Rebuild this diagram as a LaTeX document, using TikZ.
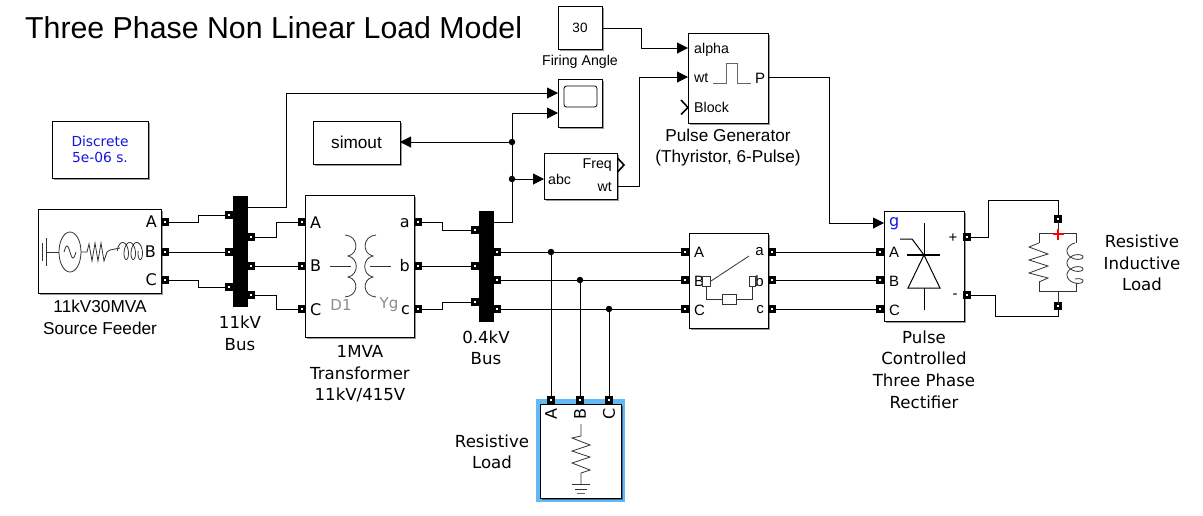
\documentclass[tikz,border=0pt]{standalone}
\usepackage{fontspec}
\setmainfont{Liberation Sans}
\newfontfamily\vfont{DejaVu Sans}
\usetikzlibrary{arrows.meta,shadows}
\definecolor{hilite}{RGB}{100,185,245}
\definecolor{simblue}{RGB}{20,20,225}
\tikzset{
  blk/.style={draw=black,line width=0.9pt,fill=white,inner sep=0pt,outer sep=0pt,
    drop shadow={shadow xshift=1.5pt,shadow yshift=-2pt,opacity=.4,fill=black}},
  bar/.style={fill=black,inner sep=0pt,outer sep=0pt},
  port/.style={draw=black,fill=white,line width=2.3pt,minimum size=5pt,inner sep=0pt,outer sep=0pt},
  dot/.style={circle,fill=black,minimum size=6.5pt,inner sep=0pt},
  wire/.style={draw=black,line width=1pt},
  arr/.style={wire,-{Triangle[length=11pt,width=11pt]}},
  icon/.style={draw=black!80,line width=0.8pt},
  gicon/.style={draw=black!60,line width=0.8pt},
  lbl/.style={inner sep=0pt,align=center,font=\fontsize{17.2}{21.6}\selectfont},
  vlbl/.style={inner sep=0pt,align=center,font=\vfont\fontsize{16.6}{21.6}\selectfont},
  plbl/.style={inner sep=0pt,font=\vfont\fontsize{16}{16}\selectfont},
  slbl/.style={inner sep=0pt,font=\fontsize{14.2}{14}\selectfont},
  mlbl/.style={inner sep=0pt,font=\fontsize{15}{15}\selectfont}
}
\begin{document}
\begin{tikzpicture}[x=1pt,y=-1pt]
\useasboundingbox (0,0) rectangle (1203,515);
\fill[white] (0,0) rectangle (1203,515);
% title
\node[anchor=west,inner sep=0pt,font=\fontsize{30.3}{32}\selectfont] (title) at (25,28) {Three Phase Non Linear Load Model};
% discrete
\node[blk,minimum width=96pt,minimum height=57pt,align=center,text=simblue,font=\vfont\fontsize{13.8}{15.5}\selectfont] (disc) at (100,149.5) {Discrete\\5e-06 s.};
% source
\node[blk,minimum width=123pt,minimum height=84pt] (src) at (99.5,251) {};
\node[plbl,anchor=east] (srcA) at (157,222) {A};
\node[plbl,anchor=east] (srcB) at (156,252) {B};
\node[plbl,anchor=east] (srcC) at (157,280) {C};
\draw[icon] (42,243) -- (42,261) (46,238) -- (46,266) (46,252) -- (59,252);
\draw[icon] (70,252) ellipse [x radius=11,y radius=20];
\draw[icon] plot[domain=64:76,samples=30,smooth] (\x,{252-6*sin(30*(\x-64))});
\draw[icon] (81,252) -- (87,252) -- (89,244) -- (92,261) -- (95,243) -- (98,261) -- (101,243) -- (104,261) -- (107,252) -- (110,250) -- (120,248);
\draw[icon] plot[domain=90:1170,samples=140,smooth] ({121+(\x-90)/1080*21-3.8*sin(\x)},{251+8.5*cos(\x)});
\node[lbl] (srcL) at (100,317.5) {11kV30MVA\\Source Feeder};
% bus 1
\node[bar,minimum width=15pt,minimum height=111pt] (bus1) at (240.5,251.5) {};
\node[vlbl] (bus1L) at (240,333.5) {11kV\\Bus};
% transformer
\node[blk,minimum width=109pt,minimum height=142pt] (tr) at (359.5,266) {};
\node[plbl,anchor=west] (trA) at (310,223) {A};
\node[plbl,anchor=west] (trB) at (310,266) {B};
\node[plbl,anchor=west] (trC) at (310,310) {C};
\node[plbl,anchor=east] (tra) at (410,223) {a};
\node[plbl,anchor=east] (trb) at (410,266) {b};
\node[plbl,anchor=east] (trc) at (410,310) {c};
\draw[icon] (345,235) .. controls (359,236) and (359,254) .. (348,256) .. controls (359,258) and (359,275) .. (348,277) .. controls (359,279) and (359,296) .. (345,297);
\draw[icon] (376,235) .. controls (362,236) and (362,254) .. (373,256) .. controls (362,258) and (362,275) .. (373,277) .. controls (362,279) and (362,296) .. (376,297);
\draw[icon] (330,266) -- (351,266) (370,266) -- (391,266);
\node[plbl,text=black!45,font=\vfont\fontsize{15}{15}\selectfont] (d1) at (341,305) {D1};
\node[plbl,text=black!45,font=\vfont\fontsize{15}{15}\selectfont] (yg) at (389,305) {Yg};
\node[vlbl] (trL) at (360,374) {1MVA\\Transformer\\11kV/415V};
% bus 2
\node[bar,minimum width=15pt,minimum height=111pt] (bus2) at (486.5,266.5) {};
\node[vlbl] (bus2L) at (486,348) {0.4kV\\Bus};
% simout
\node[blk,minimum width=87pt,minimum height=43pt,font=\fontsize{17.2}{18}\selectfont] (sim) at (356.5,142.5) {simout};
% constant
\node[blk,minimum width=44pt,minimum height=43pt,font=\fontsize{13.5}{15}\selectfont] (cst) at (580,27.5) {30};
\node[slbl] (cstL) at (580,62) {Firing Angle};
% scope
\node[blk,minimum width=44pt,minimum height=48pt] (scp) at (580,103) {};
\draw[icon,draw=black,rounded corners=2.5pt] (564,86) rectangle (597,107);
% pll
\node[blk,minimum width=73pt,minimum height=46pt] (pll) at (580.5,176) {};
\node[slbl,anchor=west] (abcT) at (548,179) {abc};
\node[slbl,anchor=east] (freqT) at (612,165) {Freq};
\node[slbl,anchor=east] (wtT) at (612,187) {wt};
\draw[draw=black,line width=1.6pt,line join=miter] (617.5,158) -- (624,165) -- (617.5,172);
% pulse generator
\node[blk,minimum width=80pt,minimum height=90pt] (pg) at (728,78) {};
\node[slbl,anchor=west] (alphaT) at (694,50) {alpha};
\node[slbl,anchor=west] (wt2T) at (694,78) {wt};
\node[slbl,anchor=west] (blockT) at (694,107) {Block};
\node[mlbl,anchor=west] (pT) at (755,78) {P};
\draw[gicon] (713,83) -- (726,83) -- (726,63.5) -- (737,63.5) -- (737,83) -- (751,83);
\draw[draw=black,line width=1.6pt] (681,100) -- (688,107.5) -- (681,114.5);
\node[lbl] (pgL) at (728,147.5) {Pulse Generator\\(Thyristor, 6-Pulse)};
% breaker
\node[blk,minimum width=79pt,minimum height=95pt] (brk) at (728.5,280.5) {};
\node[mlbl,anchor=west] (brA) at (694,252) {A};
\node[mlbl,anchor=west] (brB) at (694,281) {B};
\node[mlbl,anchor=west] (brC) at (694,310) {C};
\node[mlbl,anchor=east] (bra) at (764,252) {a};
\node[mlbl,anchor=east] (brb) at (764,281) {b};
\node[mlbl,anchor=east] (brc) at (764,310) {c};
\draw[icon,fill=white] (702,276) rectangle (710,286);
\draw[icon,fill=white] (749,276) rectangle (755,286);
\draw[icon,fill=white] (722,294) rectangle (736,304);
\draw[icon] (711,281) -- (749,256);
\draw[icon] (706,286) |- (722,299) (736,299) -| (752,286);
% rectifier
\node[blk,minimum width=80pt,minimum height=110pt] (rec) at (924,266) {};
\node[plbl,anchor=west,text=simblue] (recg) at (889,224) {g};
\node[mlbl,anchor=west] (recA) at (889,252) {A};
\node[mlbl,anchor=west] (recB) at (889,281) {B};
\node[mlbl,anchor=west] (recC) at (889,310) {C};
\node[mlbl] (recP) at (953,238) {+};
\node[mlbl] (recM) at (955,296) {-};
\draw[icon,draw=black,line width=1pt] (924,223) -- (924,255) (924,288) -- (924,310);
\draw[icon,draw=black,line width=1.1pt] (907,255) -- (940,255);
\draw[icon,draw=black,line width=1pt] (924,255) -- (908,288) -- (940,288) -- cycle;
\draw[icon,draw=black,line width=1pt] (900,239) -- (912,239) -- (924,255);
\node[vlbl] (recL) at (924,369.5) {Pulse\\Controlled\\Three Phase\\Rectifier};
% RL load
\coordinate (rlT) at (1058,233);
\coordinate (rlB) at (1058,291);
\draw[icon] (1039,243) |- (1076,233) -- (1076,243);
\draw[icon] (1039,282) |- (1076,291) -- (1076,283);
\draw[icon] (1039,243) -- (1029,247) -- (1048,254) -- (1029,260) -- (1048,266) -- (1029,273) -- (1048,278) -- (1039,282);
\draw[icon] plot[domain=90:1170,samples=140,smooth] ({1075+8*cos(\x)},{243+(\x-90)/1080*36+5-5*sin(\x)});
\node[vlbl] (rlL) at (1142,263) {Resistive\\Inductive\\Load};
% resistive load
\fill[hilite] (536,399) rectangle (625,502);
\node[blk,minimum width=81pt,minimum height=94pt] (rl) at (580.5,451) {};
\node[plbl,rotate=90] (rlA) at (551,414) {A};
\node[plbl,rotate=90] (rlB2) at (580,414) {B};
\node[plbl,rotate=90] (rlC) at (609,414) {C};
\draw[icon] (581,424) -- (581,436) -- (572,438) -- (590,445) -- (572,451) -- (590,457) -- (572,463) -- (590,470) -- (581,473) -- (581,484);
\draw[icon] (572,484) -- (590,484) (575,489) -- (587,489);
\draw[gicon] (577,493) -- (585,493);
\node[vlbl] (rlL2) at (492,452) {Resistive\\Load};
% ports
\foreach \n/\px/\py in {s1/165/222,s2/165/252,s3/165/280,
  bi1/229/215,bi2/229/252,bi3/229/287,bo1/251/237,bo2/251/266,bo3/251/295,
  ti1/302/222,ti2/302/266,ti3/302/309,to1/418/222,to2/418/266,to3/418/309,
  ci1/475/230,ci2/475/266,ci3/475/302,co1/497/252,co2/497/280,co3/497/309,
  bk1/685/252,bk2/685/280,bk3/685/309,bko1/772/252,bko2/772/280,bko3/772/309,
  ri1/880/252,ri2/880/280,ri3/880/309,ro1/967/237,ro2/967/295,
  lt/1058/219,lb/1058/306,
  la/551/400,lb2/580/400,lc/609/400}
  {\node[port] (\n) at (\px,\py) {};}
% junctions
\node[dot] (j1) at (512,142) {};
\node[dot] (j2) at (512,179) {};
\node[dot] (ja) at (551,252) {};
\node[dot] (jb) at (580,280) {};
\node[dot] (jc) at (609,309) {};
% named ends
\coordinate (bus1top) at (248,207);
\coordinate (bus2top) at (494,222);
\coordinate (scpi1) at (558,93);
\coordinate (scpi2) at (558,113);
\coordinate (pga) at (688,48);
\coordinate (pgw) at (688,77);
\coordinate (pgP) at (768,77);
\coordinate (recg1) at (884,223);
\coordinate (simin) at (400,142);
\coordinate (abcin) at (544,179);
\coordinate (cstout) at (602,28);
\coordinate (pllw) at (617,186);
% wires
\draw[wire] (s1) -- (198,222) |- (bi1);
\draw[wire] (s2) -- (bi2);
\draw[wire] (s3) -- (198,280) |- (bi3);
\draw[wire] (bo1) -- (276,237) |- (ti1);
\draw[wire] (bo2) -- (ti2);
\draw[wire] (bo3) -- (276,295) |- (ti3);
\draw[wire] (to1) -- (442,222) |- (ci1);
\draw[wire] (to2) -- (ci2);
\draw[wire] (to3) -- (442,309) |- (ci3);
\draw[wire] (co1) -- (ja) -- (bk1);
\draw[wire] (co2) -- (jb) -- (bk2);
\draw[wire] (co3) -- (jc) -- (bk3);
\draw[wire] (ja) -- (la);
\draw[wire] (jb) -- (lb2);
\draw[wire] (jc) -- (lc);
\draw[wire] (bko1) -- (ri1);
\draw[wire] (bko2) -- (ri2);
\draw[wire] (bko3) -- (ri3);
\draw[wire] (ro1) -- (988,237) |- (1058,200) -- (lt);
\draw[wire] (ro2) -- (995,295) |- (1058,316) -- (lb);
\draw[icon] (lt) -- (rlT);
\draw[icon] (lb) -- (rlB);
\draw[draw=red,line width=1.1pt] (1058,229) -- (1058,240) (1052.5,234) -- (1063.5,234);
\draw[arr] (bus1top) -- (286,207) |- (scpi1);
\draw[wire] (bus2top) -- (512,222) -- (j2);
\draw[wire] (j2) -- (j1);
\draw[arr] (j1) |- (scpi2);
\draw[arr] (j1) -- (simin);
\draw[arr] (j2) -- (abcin);
\draw[arr] (cstout) -- (641,28) |- (pga);
\draw[arr] (pllw) -- (639,186) |- (pgw);
\draw[arr] (pgP) -- (829,77) |- (recg1);
\end{tikzpicture}
\end{document}
